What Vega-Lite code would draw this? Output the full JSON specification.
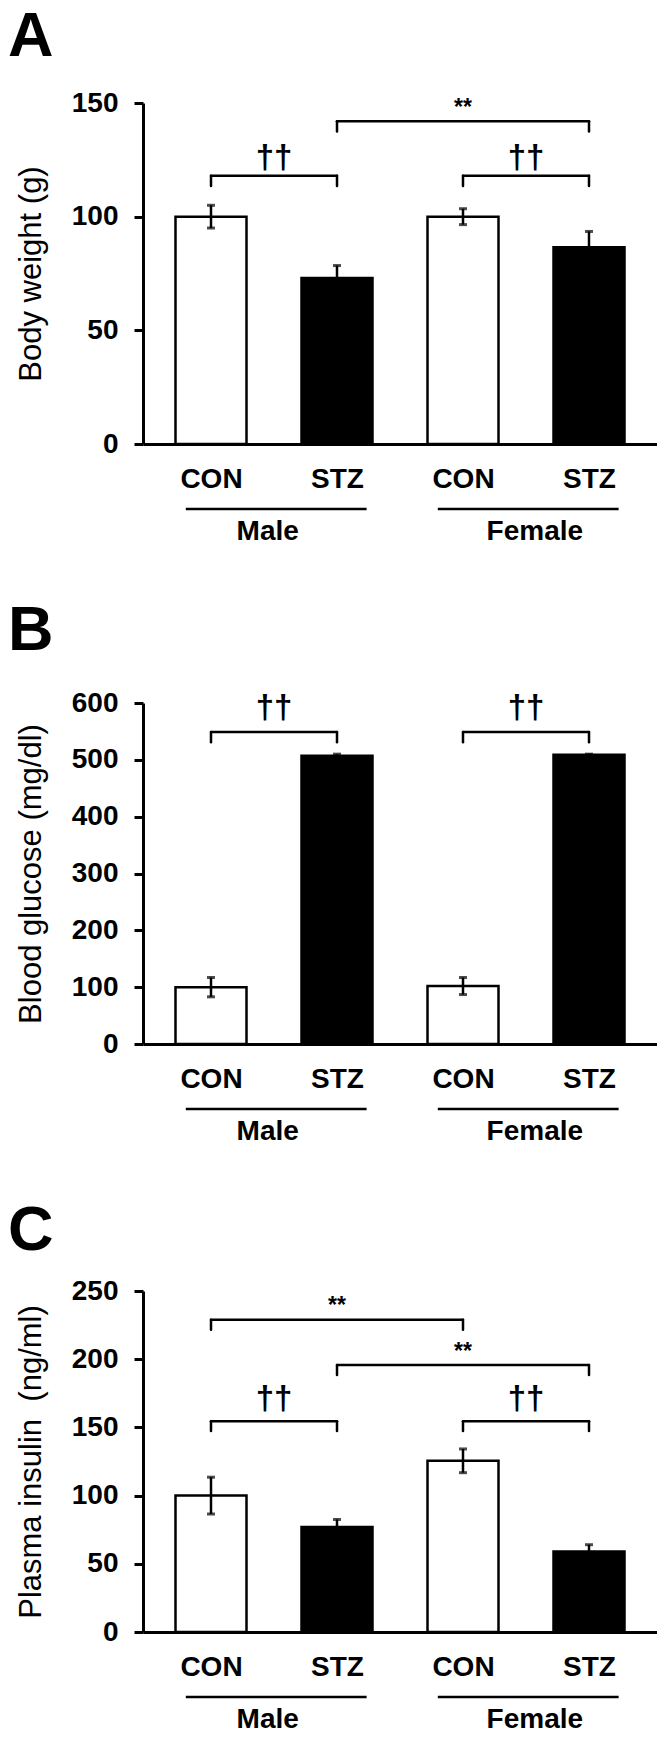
{
  "$schema": "https://vega.github.io/schema/vega-lite/v6.json",
  "padding": {"left": 8, "top": 6, "right": 0, "bottom": 0},
  "spacing": 54,
  "config": {
    "font": "Liberation Sans",
    "view": {"stroke": null},
    "axis": {"grid": false, "domainColor": "black", "domainWidth": 3, "tickColor": "black", "tickWidth": 3, "labelColor": "black", "titleColor": "black"},
    "axisX": {"ticks": false, "tickSize": 0, "labelFontSize": 28, "labelFontWeight": "bold", "labelPadding": 21, "labelFlush": false},
    "axisY": {"tickSize": 9, "labelFontSize": 28, "labelFontWeight": "bold", "labelPadding": 16, "titleFontSize": 31, "titleFontWeight": "normal", "titlePadding": 24},
    "title": {"anchor": "start", "frame": "group", "fontSize": 63, "fontWeight": "bold", "color": "black", "dx": -135}
  },
  "datasets": {
    "barsA": [
      {"pos": 0, "sex": "Male", "trt": "CON", "mean": 100, "sem": 5},
      {"pos": 1, "sex": "Male", "trt": "STZ", "mean": 73, "sem": 5.5},
      {"pos": 2, "sex": "Female", "trt": "CON", "mean": 100, "sem": 3.5},
      {"pos": 3, "sex": "Female", "trt": "STZ", "mean": 86.5, "sem": 7}
    ],
    "barsB": [
      {"pos": 0, "sex": "Male", "trt": "CON", "mean": 100, "sem": 17},
      {"pos": 1, "sex": "Male", "trt": "STZ", "mean": 507, "sem": 3},
      {"pos": 2, "sex": "Female", "trt": "CON", "mean": 102, "sem": 15},
      {"pos": 3, "sex": "Female", "trt": "STZ", "mean": 509, "sem": 1}
    ],
    "barsC": [
      {"pos": 0, "sex": "Male", "trt": "CON", "mean": 100, "sem": 13.5},
      {"pos": 1, "sex": "Male", "trt": "STZ", "mean": 77, "sem": 5.5},
      {"pos": 2, "sex": "Female", "trt": "CON", "mean": 125.5, "sem": 8.7},
      {"pos": 3, "sex": "Female", "trt": "STZ", "mean": 59, "sem": 5}
    ],
    "brA": [
      {"a": 0, "b": 1, "mid": 0.5, "lev": 118, "tip": 113.5, "lab": "††", "ly": 126},
      {"a": 2, "b": 3, "mid": 2.5, "lev": 118, "tip": 113.5, "lab": "††", "ly": 126},
      {"a": 1, "b": 3, "mid": 2, "lev": 142, "tip": 137.5, "lab": "**", "ly": 147.8}
    ],
    "brB": [
      {"a": 0, "b": 1, "mid": 0.5, "lev": 549, "tip": 531, "lab": "††", "ly": 591},
      {"a": 2, "b": 3, "mid": 2.5, "lev": 549, "tip": 531, "lab": "††", "ly": 591}
    ],
    "brC": [
      {"a": 0, "b": 2, "mid": 1, "lev": 228.9, "tip": 221.6, "lab": "**", "ly": 239},
      {"a": 1, "b": 3, "mid": 2, "lev": 195.7, "tip": 188.4, "lab": "**", "ly": 205},
      {"a": 0, "b": 1, "mid": 0.5, "lev": 154.6, "tip": 147.3, "lab": "††", "ly": 170.5},
      {"a": 2, "b": 3, "mid": 2.5, "lev": 154.6, "tip": 147.3, "lab": "††", "ly": 170.5}
    ],
    "groups": [
      {"sex": "Male", "u1": -0.2, "u2": 1.235, "um": 0.45},
      {"sex": "Female", "u1": 1.8, "u2": 3.235, "um": 2.57}
    ]
  },
  "vconcat": [
    {
      "title": {"text": "A", "offset": 20},
      "width": 514,
      "height": 341,
      "layer": [
        {
          "data": {"name": "barsA"},
          "mark": {"type": "bar", "width": 71, "stroke": "black", "strokeWidth": 2.5},
          "encoding": {
            "x": {"field": "pos", "type": "quantitative", "scale": {"domain": [-0.5, 3.5], "nice": false, "zero": false},
                  "axis": {"title": null, "values": [0, 1, 2, 3], "labelExpr": "datum.value % 2 === 0 ? 'CON' : 'STZ'"}},
            "y": {"field": "mean", "type": "quantitative", "title": "Body weight (g)", "scale": {"domain": [0, 150], "nice": false},
                  "axis": {"values": [0, 50, 100, 150]}},
            "color": {"field": "trt", "type": "nominal", "scale": {"domain": ["CON", "STZ"], "range": ["white", "black"]}, "legend": null}
          }
        },
        {
          "data": {"name": "barsA"},
          "mark": {"type": "errorbar", "orient": "vertical", "color": "black", "ticks": {"size": 8, "thickness": 3}, "rule": {"strokeWidth": 2.5}},
          "encoding": {
            "x": {"field": "pos", "type": "quantitative", "title": null},
            "y": {"field": "mean", "type": "quantitative", "title": "Body weight (g)"},
            "yError": {"field": "sem"}
          }
        },
        {
          "data": {"name": "brA"},
          "layer": [
            {"mark": {"type": "rule", "strokeWidth": 2.5, "color": "black", "strokeCap": "round"},
             "encoding": {"x": {"field": "a", "type": "quantitative"}, "x2": {"field": "b"}, "y": {"field": "lev", "type": "quantitative"}}},
            {"mark": {"type": "rule", "strokeWidth": 2.5, "color": "black", "strokeCap": "round"},
             "encoding": {"x": {"field": "a", "type": "quantitative"}, "y": {"field": "lev", "type": "quantitative"}, "y2": {"field": "tip"}}},
            {"mark": {"type": "rule", "strokeWidth": 2.5, "color": "black", "strokeCap": "round"},
             "encoding": {"x": {"field": "b", "type": "quantitative"}, "y": {"field": "lev", "type": "quantitative"}, "y2": {"field": "tip"}}},
            {"mark": {"type": "text", "fontSize": 33, "fontWeight": "bold", "baseline": "middle", "color": "black"},
             "encoding": {"x": {"field": "mid", "type": "quantitative"}, "y": {"field": "ly", "type": "quantitative"}, "text": {"field": "lab"},
                          "size": {"condition": {"test": "datum.lab === '**'", "value": 23}, "value": 33}}}
          ]
        },
        {
          "data": {"name": "groups"},
          "layer": [
            {"mark": {"type": "rule", "strokeWidth": 2.5, "color": "black", "yOffset": 65},
             "encoding": {"x": {"field": "u1", "type": "quantitative"}, "x2": {"field": "u2"}, "y": {"datum": 0}}},
            {"mark": {"type": "text", "fontSize": 28, "fontWeight": "bold", "baseline": "middle", "dy": 88, "color": "black"},
             "encoding": {"x": {"field": "um", "type": "quantitative"}, "y": {"datum": 0}, "text": {"field": "sex"}}}
          ]
        }
      ]
    },
    {
      "title": {"text": "B", "offset": 26},
      "width": 514,
      "height": 341,
      "layer": [
        {
          "data": {"name": "barsB"},
          "mark": {"type": "bar", "width": 71, "stroke": "black", "strokeWidth": 2.5},
          "encoding": {
            "x": {"field": "pos", "type": "quantitative", "scale": {"domain": [-0.5, 3.5], "nice": false, "zero": false},
                  "axis": {"title": null, "values": [0, 1, 2, 3], "labelExpr": "datum.value % 2 === 0 ? 'CON' : 'STZ'"}},
            "y": {"field": "mean", "type": "quantitative", "title": "Blood glucose (mg/dl)", "scale": {"domain": [0, 600], "nice": false},
                  "axis": {"values": [0, 100, 200, 300, 400, 500, 600]}},
            "color": {"field": "trt", "type": "nominal", "scale": {"domain": ["CON", "STZ"], "range": ["white", "black"]}, "legend": null}
          }
        },
        {
          "data": {"name": "barsB"},
          "mark": {"type": "errorbar", "orient": "vertical", "color": "black", "ticks": {"size": 8, "thickness": 3}, "rule": {"strokeWidth": 2.5}},
          "encoding": {
            "x": {"field": "pos", "type": "quantitative", "title": null},
            "y": {"field": "mean", "type": "quantitative", "title": "Blood glucose (mg/dl)"},
            "yError": {"field": "sem"}
          }
        },
        {
          "data": {"name": "brB"},
          "layer": [
            {"mark": {"type": "rule", "strokeWidth": 2.5, "color": "black", "strokeCap": "round"},
             "encoding": {"x": {"field": "a", "type": "quantitative"}, "x2": {"field": "b"}, "y": {"field": "lev", "type": "quantitative"}}},
            {"mark": {"type": "rule", "strokeWidth": 2.5, "color": "black", "strokeCap": "round"},
             "encoding": {"x": {"field": "a", "type": "quantitative"}, "y": {"field": "lev", "type": "quantitative"}, "y2": {"field": "tip"}}},
            {"mark": {"type": "rule", "strokeWidth": 2.5, "color": "black", "strokeCap": "round"},
             "encoding": {"x": {"field": "b", "type": "quantitative"}, "y": {"field": "lev", "type": "quantitative"}, "y2": {"field": "tip"}}},
            {"mark": {"type": "text", "fontSize": 33, "fontWeight": "bold", "baseline": "middle", "color": "black"},
             "encoding": {"x": {"field": "mid", "type": "quantitative"}, "y": {"field": "ly", "type": "quantitative"}, "text": {"field": "lab"}}}
          ]
        },
        {
          "data": {"name": "groups"},
          "layer": [
            {"mark": {"type": "rule", "strokeWidth": 2.5, "color": "black", "yOffset": 65},
             "encoding": {"x": {"field": "u1", "type": "quantitative"}, "x2": {"field": "u2"}, "y": {"datum": 0}}},
            {"mark": {"type": "text", "fontSize": 28, "fontWeight": "bold", "baseline": "middle", "dy": 88, "color": "black"},
             "encoding": {"x": {"field": "um", "type": "quantitative"}, "y": {"datum": 0}, "text": {"field": "sex"}}}
          ]
        }
      ]
    },
    {
      "title": {"text": "C", "offset": 14},
      "width": 514,
      "height": 341,
      "layer": [
        {
          "data": {"name": "barsC"},
          "mark": {"type": "bar", "width": 71, "stroke": "black", "strokeWidth": 2.5},
          "encoding": {
            "x": {"field": "pos", "type": "quantitative", "scale": {"domain": [-0.5, 3.5], "nice": false, "zero": false},
                  "axis": {"title": null, "values": [0, 1, 2, 3], "labelExpr": "datum.value % 2 === 0 ? 'CON' : 'STZ'"}},
            "y": {"field": "mean", "type": "quantitative", "title": "Plasma insulin\u00a0 (ng/ml)", "scale": {"domain": [0, 250], "nice": false},
                  "axis": {"values": [0, 50, 100, 150, 200, 250]}},
            "color": {"field": "trt", "type": "nominal", "scale": {"domain": ["CON", "STZ"], "range": ["white", "black"]}, "legend": null}
          }
        },
        {
          "data": {"name": "barsC"},
          "mark": {"type": "errorbar", "orient": "vertical", "color": "black", "ticks": {"size": 8, "thickness": 3}, "rule": {"strokeWidth": 2.5}},
          "encoding": {
            "x": {"field": "pos", "type": "quantitative", "title": null},
            "y": {"field": "mean", "type": "quantitative", "title": "Plasma insulin\u00a0 (ng/ml)"},
            "yError": {"field": "sem"}
          }
        },
        {
          "data": {"name": "brC"},
          "layer": [
            {"mark": {"type": "rule", "strokeWidth": 2.5, "color": "black", "strokeCap": "round"},
             "encoding": {"x": {"field": "a", "type": "quantitative"}, "x2": {"field": "b"}, "y": {"field": "lev", "type": "quantitative"}}},
            {"mark": {"type": "rule", "strokeWidth": 2.5, "color": "black", "strokeCap": "round"},
             "encoding": {"x": {"field": "a", "type": "quantitative"}, "y": {"field": "lev", "type": "quantitative"}, "y2": {"field": "tip"}}},
            {"mark": {"type": "rule", "strokeWidth": 2.5, "color": "black", "strokeCap": "round"},
             "encoding": {"x": {"field": "b", "type": "quantitative"}, "y": {"field": "lev", "type": "quantitative"}, "y2": {"field": "tip"}}},
            {"mark": {"type": "text", "fontSize": 33, "fontWeight": "bold", "baseline": "middle", "color": "black"},
             "encoding": {"x": {"field": "mid", "type": "quantitative"}, "y": {"field": "ly", "type": "quantitative"}, "text": {"field": "lab"},
                          "size": {"condition": {"test": "datum.lab === '**'", "value": 23}, "value": 33}}}
          ]
        },
        {
          "data": {"name": "groups"},
          "layer": [
            {"mark": {"type": "rule", "strokeWidth": 2.5, "color": "black", "yOffset": 65},
             "encoding": {"x": {"field": "u1", "type": "quantitative"}, "x2": {"field": "u2"}, "y": {"datum": 0}}},
            {"mark": {"type": "text", "fontSize": 28, "fontWeight": "bold", "baseline": "middle", "dy": 88, "color": "black"},
             "encoding": {"x": {"field": "um", "type": "quantitative"}, "y": {"datum": 0}, "text": {"field": "sex"}}}
          ]
        }
      ]
    }
  ]
}
